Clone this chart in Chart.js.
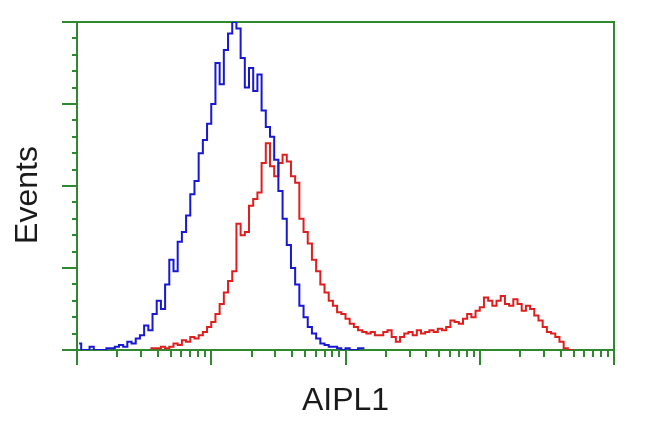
<!DOCTYPE html>
<html>
<head>
<meta charset="utf-8">
<title>AIPL1 – flow cytometry histogram</title>
<script src="https://cdn.jsdelivr.net/npm/chart.js@4.4.1/dist/chart.umd.min.js"></script>
<style>
    html, body { margin: 0; padding: 0; background: #fff; }
    #wrap { width: 650px; height: 432px; }
</style>
</head>
<body>
<div id="wrap"><canvas id="histChart" width="650" height="432"></canvas></div>
<script>
/* ===================================================
   Flow histogram – control (blue) vs AIPL1 (red)
   =================================================== */

// ── Data ──────────────────────────────────────────────
// 1024 channels over 4 log decades, grouped in 8-channel bins
const CHANNELS = 1024;
const DECADES = 4;
const BIN_WIDTH = 8;

// control cells, bin 0 upwards
const controlCounts = [
    4, 0, 0, 2, 0, 0, 0, 1, 1, 2,
    3, 2, 5, 4, 7, 9, 15, 12, 22, 30,
    25, 40, 55, 48, 66, 72, 82, 95, 103, 120,
    128, 138, 150, 175, 162, 183, 193, 200, 196, 178,
    160, 172, 158, 168, 146, 136, 130, 116, 97, 80,
    64, 50, 40, 27, 20, 14, 10, 7, 4, 3,
    2, 2, 1, 0, 1, 0, 0, 1, 1
];

// AIPL1 transfected cells, bin 0 upwards
const aipl1Counts = [
    null, null, null, null, null, null, null, null, null, null,
    null, null, null, null, null, null, null, 1, 1, 1,
    2, 1, 2, 4, 3, 6, 5, 8, 7, 9,
    11, 14, 17, 22, 28, 35, 42, 48, 77, 70,
    72, 88, 92, 96, 114, 126, 112, 106, 114, 119,
    115, 106, 102, 80, 72, 65, 55, 48, 40, 35,
    30, 27, 23, 22, 19, 16, 14, 12, 11, 10,
    11, 9, 9, 11, 12, 8, 5, 8, 10, 11,
    9, 12, 10, 11, 12, 11, 13, 12, 14, 18,
    17, 16, 19, 22, 20, 24, 26, 32, 30, 27,
    30, 33, 28, 27, 31, 28, 24, 27, 25, 21,
    18, 14, 11, 10, 8, 5, 1, 0, 0
];

const yMajorTicks = [0, 50, 100, 150, 200];
const yMinorStep = 10;
const xDecadeTicks = [1, 10, 100, 1000, 10000];
const xMinorSteps = [2, 3, 4, 5, 6, 7, 8, 9];

const AXIS_GREEN = '#2f8a2f';
const TEXT_COLOR = '#1a1a1a';
const FONT = "'Liberation Sans', Arial, sans-serif";

// bin index -> channel centre
const toPoints = (counts) => counts.map((c, i) => ({ x: (i + 0.5) * BIN_WIDTH, y: c }));

// decade value -> channel
const chanOf = (v) => Math.log10(v) * CHANNELS / DECADES;

// ── Frame + ticks (drawn under the traces) ─────────────
const flowAxes = {
    id: 'flowAxes',
    beforeDatasetsDraw(chart) {
        const { ctx, chartArea: a, scales: { x, y } } = chart;
        ctx.save();
        ctx.strokeStyle = AXIS_GREEN;
        ctx.lineWidth = 2;
        ctx.strokeRect(a.left, a.top, a.right - a.left, a.bottom - a.top);

        ctx.beginPath();
        for (let v = 0; v <= y.max; v += yMinorStep) {
            const py = Math.round(y.getPixelForValue(v));
            const len = yMajorTicks.includes(v) ? 15 : 5;
            ctx.moveTo(a.left, py);
            ctx.lineTo(a.left - len, py);
        }
        xDecadeTicks.forEach((d, k) => {
            const px = Math.round(x.getPixelForValue(chanOf(d)));
            ctx.moveTo(px, a.bottom);
            ctx.lineTo(px, a.bottom + 15);
            if (k === xDecadeTicks.length - 1) return;
            xMinorSteps.forEach(m => {
                const mx = Math.round(x.getPixelForValue(chanOf(d * m)));
                ctx.moveTo(mx, a.bottom);
                ctx.lineTo(mx, a.bottom + 7);
            });
        });
        ctx.stroke();

        // y title sits a little below the plot's middle in the original
        ctx.fillStyle = TEXT_COLOR;
        ctx.font = `32px ${FONT}`;
        ctx.textAlign = 'center';
        ctx.textBaseline = 'middle';
        ctx.translate(28, (a.top + a.bottom) / 2 + 9);
        ctx.rotate(-Math.PI / 2);
        ctx.fillText('Events', 0, 0);
        ctx.restore();
    }
};

// ── Chart ─────────────────────────────────────────────
const ctx = document.getElementById('histChart');
new Chart(ctx, {
    type: 'line',
    data: {
        datasets: [
            { label: 'Control', data: toPoints(controlCounts), borderColor: '#1818d4' },
            { label: 'AIPL1', data: toPoints(aipl1Counts), borderColor: '#e01e1e' }
        ]
    },
    options: {
        responsive: false,
        animation: false,
        layout: { padding: { top: 22, right: 36, left: 0, bottom: 0 } },
        plugins: { legend: { display: false }, tooltip: { enabled: false } },
        elements: {
            point: { radius: 0 },
            line: { borderWidth: 2, tension: 0, stepped: 'middle', fill: false }
        },
        scales: {
            x: {
                type: 'linear', min: 0, max: CHANNELS,
                ticks: { display: false }, grid: { display: false }, border: { display: false },
                title: { display: true, text: 'AIPL1', color: TEXT_COLOR,
                         font: { family: FONT, size: 32 }, padding: { top: 0, bottom: 12 } },
                afterFit(s) { s.height = 82; }
            },
            y: {
                min: 0, max: 200,
                ticks: { display: false }, grid: { display: false }, border: { display: false },
                afterFit(s) { s.width = 77; }
            }
        }
    },
    plugins: [flowAxes]
});
</script>
</body>
</html>
